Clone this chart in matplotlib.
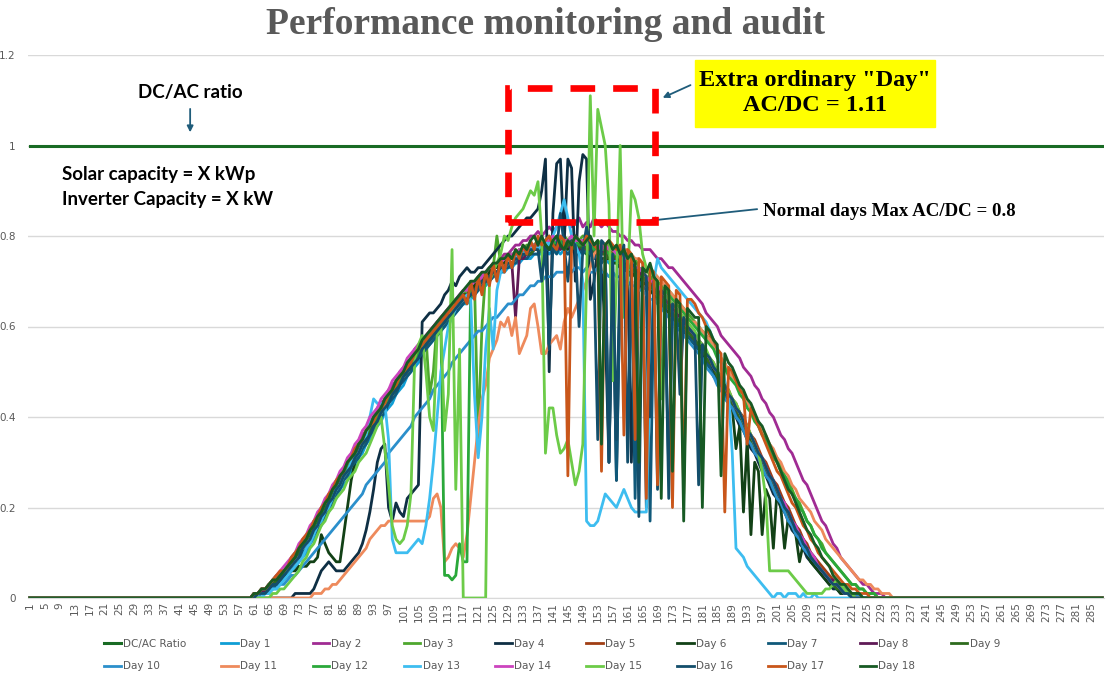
import matplotlib
matplotlib.use("Agg")
import matplotlib.pyplot as plt
from matplotlib.patches import Rectangle
import numpy as np

# ---- data ---------------------------------------------------------------
# 288 five-minute slots; daily AC/DC values (in %) start at slot 59
N_SLOTS = 288
START = 59
categories = np.arange(1, N_SLOTS + 1)
tick_labels = [str(c) for c in categories[::4]]
dc_ac_ratio = [1.0] * N_SLOTS

day_1 = [0,0,0,1,1,1,2,2,3,3,4,5,6,7,8,9,10,12,13,15,
         16,18,19,21,22,24,25,26,28,29,31,32,34,35,37,38,39,41,42,43,
         45,46,47,49,50,51,52,54,55,56,57,58,59,60,61,62,63,64,65,65,
         66,67,68,69,69,70,71,71,72,72,73,73,74,74,75,75,75,76,76,76,
         77,76,77,77,76,77,76,77,76,76,77,76,76,75,76,75,75,74,75,74,
         73,74,73,72,72,71,70,70,69,68,67,66,66,65,63,62,61,60,59,58,
         57,55,54,53,52,50,49,47,46,44,43,41,40,38,36,35,33,31,30,28,
         26,25,23,21,20,18,16,15,13,12,10,9,8,7,6,5,4,3,3,2,
         2,1,1,1,1]
day_2 = [0,0,1,1,2,2,3,3,4,5,6,7,8,9,11,12,13,15,16,18,
         19,21,22,24,25,27,28,30,31,33,34,36,37,39,40,42,43,44,46,47,
         48,50,51,52,53,55,56,57,58,59,60,61,62,63,64,65,66,67,68,68,
         69,70,71,72,72,73,74,74,75,76,76,77,78,78,79,79,80,80,81,80,
         81,82,81,82,83,82,83,82,83,84,82,83,82,84,83,82,83,82,81,81,
         80,80,79,79,78,78,77,77,77,76,75,75,74,73,73,72,71,70,69,68,
         67,66,65,63,62,61,60,58,57,56,55,54,53,51,50,49,47,46,44,43,
         41,40,38,36,35,33,32,30,28,26,25,23,21,19,17,16,14,12,11,9,
         8,7,6,5,4,3,3,2,1,1,1]
day_3 = [0,0,1,1,2,2,3,4,4,5,6,7,9,10,11,12,14,15,17,18,
         20,21,23,24,26,27,28,30,31,33,34,35,37,38,40,41,42,44,45,46,
         48,49,50,52,53,54,55,56,58,45,50,61,62,63,64,65,66,66,67,68,
         69,70,35,60,72,73,73,80,74,75,75,76,76,77,77,78,78,78,79,79,
         79,80,79,80,79,80,79,80,80,79,80,80,79,78,79,78,77,78,77,75,
         76,75,76,74,75,73,72,73,71,71,70,69,68,68,67,66,65,64,63,62,
         61,60,59,58,57,56,55,53,52,50,49,48,46,45,43,42,40,38,37,35,
         34,32,31,29,27,26,24,22,21,19,17,16,14,13,12,10,9,8,7,6,
         5,4,3,3,2,2,1,1,1]
day_4 = [0,0,0,0,0,0,0,0,0,0,0,0,0,1,1,1,1,1,2,4,
         6,7,8,7,6,6,6,7,8,9,10,12,15,19,24,30,33,34,20,17,
         21,19,18,22,23,24,25,61,62,63,63,64,65,67,68,70,69,71,72,73,
         72,72,73,73,74,75,76,77,78,79,80,80,81,82,83,84,84,85,86,90,
         97,50,85,96,97,78,97,95,70,92,98,97,66,70,78,72,60,30,72,26,
         70,74,72,30,70,68,72,20,71,69,68,66,65,64,62,61,60,59,58,57,
         56,55,54,52,51,49,48,46,45,43,42,40,38,37,35,33,32,30,28,27,
         25,23,22,20,19,17,15,14,12,11,9,8,7,6,5,4,3,2,2,1,
         1,1]
day_5 = [0,0,1,1,1,2,3,3,4,5,6,7,8,9,11,12,13,15,16,18,
         19,21,22,24,25,26,28,29,31,32,33,35,36,38,39,40,42,43,44,46,
         47,48,50,51,52,53,54,56,57,58,59,60,61,62,63,64,65,66,67,67,
         68,69,70,71,71,72,73,73,74,74,75,75,76,76,77,77,77,78,78,78,
         78,79,78,79,78,79,78,79,78,78,79,78,77,78,77,77,76,77,76,76,
         75,75,74,74,73,72,72,71,70,69,68,68,67,66,65,64,63,61,60,59,
         58,57,56,54,53,52,50,49,47,46,44,43,41,40,38,36,35,33,31,30,
         28,26,25,23,21,20,18,16,15,13,12,10,9,8,7,6,5,4,3,2,
         2,1,1,1]
day_6 = [0,0,1,1,1,2,2,3,3,4,5,5,6,6,7,7,7,8,8,9,
         14,12,10,9,8,8,14,20,26,30,32,34,36,37,39,40,42,43,44,46,
         47,48,50,51,52,53,55,56,57,58,59,60,61,62,63,64,65,66,67,67,
         68,69,70,71,71,72,73,73,74,74,75,75,76,76,76,77,77,77,78,78,
         78,78,78,77,78,78,77,78,77,77,77,76,77,76,76,75,75,75,74,74,
         73,73,72,72,71,70,70,69,68,67,66,65,64,63,62,61,60,59,58,57,
         56,55,54,52,51,50,48,47,45,44,42,33,38,19,35,14,30,28,14,24,
         22,11,24,20,11,18,16,14,8,12,10,8,7,6,5,4,3,3,2,1,
         1,1]
day_7 = [0,0,0,1,1,1,2,2,3,4,4,5,6,7,8,10,11,12,14,15,
         17,18,20,21,23,24,26,27,29,30,31,33,34,36,37,39,40,41,43,44,
         45,47,48,49,50,52,53,54,55,56,57,58,59,60,61,62,63,64,65,66,
         67,67,68,69,70,70,71,72,72,73,73,74,74,75,75,75,76,76,76,77,
         77,77,77,76,78,77,76,77,78,77,76,77,76,75,76,74,75,30,74,26,
         70,73,72,71,22,70,69,68,17,66,66,65,64,28,62,61,60,59,58,57,
         56,55,53,52,51,49,48,47,45,44,42,41,39,37,36,34,33,31,29,28,
         26,24,23,21,19,18,16,15,13,12,10,9,8,7,6,5,4,3,2,2,
         1,1,1]
day_8 = [0,0,1,1,1,2,2,3,4,5,6,7,8,9,10,12,13,14,16,17,
         19,20,22,23,25,26,27,29,30,32,33,35,36,38,39,40,42,43,44,45,
         47,48,49,50,52,53,54,55,56,57,58,60,61,62,63,63,64,65,66,67,
         68,68,69,70,71,71,72,72,73,73,74,74,62,75,75,76,76,77,77,77,
         78,77,78,78,77,78,78,77,78,77,78,77,77,77,76,77,76,76,75,75,
         75,74,74,73,72,72,71,70,69,69,68,67,66,65,64,63,62,61,60,58,
         57,56,55,53,52,51,49,48,46,45,43,42,40,39,37,35,34,32,30,29,
         27,25,24,22,21,19,17,16,14,13,11,10,9,7,6,5,4,4,3,2,
         2,1,1]
day_9 = [0,0,1,1,2,2,3,3,4,5,6,7,8,9,10,11,13,14,15,17,
         18,20,21,23,24,25,27,28,30,31,32,34,35,37,38,40,41,42,44,45,
         46,48,49,50,51,53,54,55,56,57,58,59,60,61,62,63,64,65,66,67,
         67,68,69,70,70,71,72,72,73,73,74,74,75,75,76,76,76,77,77,77,
         77,78,77,78,78,77,78,78,77,78,77,78,77,76,77,76,76,75,76,75,
         74,74,73,73,72,71,71,70,69,68,67,66,65,64,63,62,61,60,59,58,
         57,56,55,53,52,51,49,48,46,45,43,42,40,38,37,35,33,32,30,28,
         27,25,23,22,20,18,17,15,14,12,11,9,8,7,6,5,4,3,2,2,
         1,1]
day_10 = [0,0,0,0,1,1,1,2,2,3,3,4,5,5,6,7,8,9,10,11,
          12,13,14,15,16,17,18,19,20,21,22,23,25,26,27,28,29,30,32,33,
          34,35,36,37,38,40,41,42,43,44,46,47,48,49,50,52,53,54,55,56,
          57,58,59,59,60,61,62,62,63,64,65,65,66,67,67,68,69,69,70,70,
          71,71,71,72,72,72,73,72,73,73,72,73,72,72,73,72,72,71,72,71,
          71,70,70,69,69,68,68,67,66,66,65,64,63,62,61,60,59,58,57,56,
          55,54,53,51,50,49,47,46,44,43,42,40,39,37,35,34,32,31,29,27,
          26,24,22,21,19,17,16,14,13,11,10,9,8,7,6,5,4,3,3,2,
          2,1,1,1]
day_11 = [0,0,0,0,0,0,0,0,0,0,0,0,0,0,0,0,0,0,1,1,
          1,2,2,3,3,4,5,6,7,8,9,10,11,13,14,15,16,16,17,17,
          17,17,17,17,17,17,17,17,17,18,22,23,20,8,9,11,12,11,9,14,
          22,30,38,44,47,53,55,57,61,60,62,58,62,54,56,58,64,65,60,54,
          54,56,57,58,55,61,64,62,64,66,68,70,73,76,77,78,78,79,78,77,
          78,77,77,76,75,75,74,73,72,72,71,70,69,68,67,66,65,64,62,61,
          61,60,59,58,57,56,54,53,52,50,49,48,46,45,43,42,40,39,37,36,
          34,33,31,30,28,27,25,24,22,21,20,19,17,16,15,13,12,11,10,9,
          8,7,6,5,4,4,3,3,2,2,1,1,1]
day_12 = [0,0,1,1,2,2,3,4,5,5,6,7,8,10,11,12,13,15,16,18,
          19,21,22,24,25,27,28,29,31,32,34,35,36,38,39,40,42,43,44,46,
          47,48,50,51,52,53,54,56,57,58,59,60,61,5,5,4,5,12,8,8,
          70,70,71,71,72,73,73,74,74,75,75,76,76,77,77,77,78,78,78,78,
          79,79,78,79,79,78,79,78,79,78,78,79,78,77,78,77,77,76,76,76,
          75,75,74,74,73,73,72,71,71,70,69,68,68,67,66,65,64,63,62,61,
          60,59,58,57,56,55,53,52,51,49,48,47,45,44,42,41,39,38,36,35,
          33,31,30,28,27,25,23,22,20,19,17,16,14,13,11,10,9,8,7,6,
          5,4,3,3,2,2,1,1,1]
day_13 = [0,0,0,0,0,1,1,2,2,3,4,5,6,7,8,9,11,12,14,16,
          17,19,20,22,24,25,27,28,30,31,32,34,36,40,44,43,43,43,35,13,
          10,10,10,10,11,12,13,12,16,22,30,40,50,55,60,62,64,65,66,67,
          66,45,31,40,55,64,55,68,72,73,74,74,75,76,76,77,77,78,77,78,
          79,78,80,82,85,88,84,80,78,76,70,17,16,16,17,20,23,22,21,20,
          22,24,22,20,19,19,19,19,47,70,75,73,72,71,70,69,68,67,66,65,
          64,63,62,61,59,57,55,52,48,45,32,11,10,9,7,6,5,4,3,2,
          1,0,1,1,0,1,1,1,0,1,0,0,1]
day_14 = [0,0,1,1,2,2,3,4,5,6,7,8,9,10,12,13,14,16,17,19,
          20,22,23,25,26,28,29,31,32,34,35,37,38,40,41,42,44,45,46,48,
          49,50,51,53,54,55,56,57,58,59,60,61,62,63,64,65,66,67,68,68,
          69,70,70,71,72,73,73,74,74,75,75,76,76,77,77,77,78,78,78,79,
          79,79,80,79,80,79,79,80,79,79,79,78,79,78,78,77,78,77,77,76,
          76,75,75,74,73,73,72,71,70,70,69,68,67,66,65,64,63,62,60,59,
          58,57,56,54,53,51,50,49,47,45,44,42,41,39,37,36,34,32,31,29,
          27,26,24,22,21,19,17,16,14,13,11,10,9,7,6,5,4,3,3,2,
          1,1,1]
day_15 = [0,0,0,0,0,0,0,1,1,2,2,3,4,5,6,8,9,11,12,14,
          16,17,19,20,22,23,24,26,27,28,30,31,32,34,36,38,40,33,25,16,
          13,12,13,16,23,53,56,58,50,40,37,58,60,37,45,77,24,55,0,0,
          0,0,0,0,0,70,72,74,76,80,79,82,84,85,86,88,90,89,92,80,
          32,42,42,36,32,33,35,30,25,28,34,70,111,80,108,104,100,87,48,70,
          100,62,70,90,88,84,76,73,72,71,68,44,67,66,65,64,63,62,61,60,
          59,57,56,55,53,52,50,49,47,46,44,43,41,39,38,36,34,32,28,22,
          6,6,6,6,6,6,5,4,3,2,1,1,1,1,1,2,2,3,4,3,
          2,1,1]
day_16 = [0,0,0,1,1,1,2,3,3,4,5,6,7,8,9,11,12,13,15,16,
          18,19,21,22,24,25,27,28,29,31,32,34,35,36,38,39,41,42,43,45,
          46,47,49,50,51,52,53,55,56,57,58,59,60,61,62,63,64,65,66,66,
          67,68,69,70,70,71,72,72,73,73,74,74,75,75,76,76,77,77,77,70,
          78,55,78,77,85,78,70,79,78,60,77,82,78,72,35,79,78,30,76,35,
          75,78,30,74,73,18,72,71,40,70,24,68,67,22,65,64,45,62,60,59,
          58,25,56,54,53,51,50,48,47,45,44,42,41,39,37,36,34,32,31,29,
          27,26,24,22,20,19,17,15,14,12,11,9,8,7,6,5,4,3,3,2,
          1,1]
day_17 = [0,0,1,1,2,2,3,4,5,6,6,7,9,10,11,13,14,15,17,18,
          20,21,23,24,26,27,28,30,31,33,34,35,37,38,39,41,42,43,45,46,
          47,49,50,51,52,54,55,56,57,58,59,60,61,62,63,64,65,66,67,65,
          70,66,71,67,72,69,74,70,75,72,76,73,77,75,78,76,79,77,80,78,
          79,80,78,77,80,79,27,78,80,79,78,80,79,78,77,28,78,79,78,77,
          78,36,77,76,35,75,74,22,73,72,25,71,70,69,20,68,67,23,66,66,
          65,63,62,60,58,57,55,54,19,51,50,48,46,45,34,42,40,38,36,34,
          32,30,28,27,25,23,21,20,18,16,15,13,12,10,9,8,7,6,5,4,
          3,3,2,2,1,1,1]
day_18 = [0,0,1,1,2,2,3,4,4,5,6,7,8,9,11,12,13,15,16,18,
          19,21,22,24,25,27,28,30,31,32,34,35,37,38,40,41,42,44,45,46,
          48,49,50,52,53,54,55,57,58,59,60,61,62,63,64,65,66,67,68,69,
          70,70,71,72,72,73,74,74,75,75,76,75,77,76,78,77,79,80,78,80,
          78,77,79,80,78,77,79,78,80,79,78,79,80,78,79,34,78,79,77,78,
          76,77,75,76,74,30,73,72,74,71,70,22,69,68,28,66,65,17,64,63,
          62,62,20,60,59,57,56,27,54,52,51,49,47,46,44,43,41,39,38,36,
          34,32,30,28,26,24,23,21,19,17,15,14,12,11,9,8,7,5,4,3,
          3,2,1,1,1]

days = [day_1, day_2, day_3, day_4, day_5, day_6, day_7, day_8, day_9,
        day_10, day_11, day_12, day_13, day_14, day_15, day_16, day_17, day_18]
day_labels = ["Day %d" % (k + 1) for k in range(len(days))]
day_colors = ["#0F9ED5", "#A02B93", "#4EA72E", "#0E2F44", "#A03E14", "#124116",
              "#10597A", "#5F1A56", "#2E6B1E", "#2B8FCB", "#EE8A5C", "#2AA83A",
              "#3DBDF0", "#CC44BE", "#6CCB48", "#134E6B", "#C9561A", "#175A24"]


def full_day(values):
    series = np.zeros(N_SLOTS)
    series[START - 1:START - 1 + len(values)] = np.array(values) / 100.0
    return series


# ---- figure -------------------------------------------------------------
W, H = 1114, 673
fig = plt.figure(figsize=(W / 100, H / 100), dpi=100)
ax = fig.add_axes([28 / W, 1 - 598 / H, 1076 / W, 543 / H])

handles = []
h, = ax.plot(categories, dc_ac_ratio, color="#196B24", lw=2.2, label="DC/AC Ratio")
handles.append(h)
for vals, lab, col in zip(days, day_labels, day_colors):
    h, = ax.plot(categories, full_day(vals), color=col, lw=2.0, label=lab)
    handles.append(h)

ax.set_xlim(0.5, N_SLOTS + 0.5)
ax.set_ylim(0, 1.2)
ax.set_yticks([0, 0.2, 0.4, 0.6, 0.8, 1.0, 1.2])
ax.set_yticklabels(["0", "0.2", "0.4", "0.6", "0.8", "1", "1.2"])
ax.set_xticks(categories[::4])
ax.set_xticklabels(tick_labels, rotation=90)
ax.tick_params(axis="both", length=0, colors="#595959", labelsize=7.5)
ax.tick_params(axis="y", pad=9)
ax.tick_params(axis="x", pad=3)
ax.grid(axis="y", color="#D9D9D9", lw=1)
ax.set_axisbelow(True)
for s in ["top", "right", "left"]:
    ax.spines[s].set_visible(False)
ax.spines["bottom"].set_color("#D9D9D9")

fig.text(546 / W, 1 - 24 / H, "Performance monitoring and audit", ha="center", va="center",
         fontsize=27, fontweight="bold", family="Liberation Serif", color="#595959")

# legend: 10 columns, filled row by row
order = []
for c in range(10):
    order.append(c)
    if c + 10 < len(handles):
        order.append(c + 10)
leg = fig.legend([handles[i] for i in order], [handles[i].get_label() for i in order],
                 ncol=10, loc="center", bbox_to_anchor=(552 / W, 1 - 655 / H),
                 frameon=False, handlelength=1.6, handletextpad=0.2,
                 columnspacing=3.4, labelspacing=1.2,
                 prop={"family": "Liberation Sans Narrow", "size": 7.5})
for t in leg.get_texts():
    t.set_color("#595959")

# ---- annotations --------------------------------------------------------
arrow_col = "#1F5C7A"
ax.text(43.9, 1.118, "DC/AC ratio", ha="center", va="center", fontsize=13.5,
        fontweight="bold", family="Lato")
ax.annotate("", xy=(43.9, 1.023), xytext=(43.9, 1.087),
            arrowprops=dict(arrowstyle="-|>", color=arrow_col, lw=1.3, mutation_scale=9))
ax.text(9.6, 0.937, "Solar capacity = X kWp", ha="left", va="center", fontsize=13.5,
        fontweight="bold", family="Lato")
ax.text(9.6, 0.880, "Inverter Capacity = X kW", ha="left", va="center", fontsize=13.5,
        fontweight="bold", family="Lato")

ax.add_patch(Rectangle((129.1, 0.830), 168.2 - 129.1, 1.128 - 0.830, fill=False,
                       edgecolor="#FF0000", lw=4.8, linestyle=(0, (3.7, 2.7)), zorder=5))

fig.add_artist(Rectangle((695 / W, 1 - 127 / H), 240 / W, 67 / H,
                         transform=fig.transFigure, color="#FFFF00", zorder=6))
fig.text(815 / W, 1 - 93 / H, "Extra ordinary \"Day\"\nAC/DC = 1.11", ha="center",
         va="center", fontsize=17.5, fontweight="bold", family="Liberation Serif",
         linespacing=1.3, zorder=7)
ax.annotate("", xy=(169.7, 1.103), xytext=(178.5, 1.136),
            arrowprops=dict(arrowstyle="-|>", color=arrow_col, lw=1.3, mutation_scale=9))

ax.text(197.2, 0.855, "Normal days Max AC/DC = 0.8", ha="left", va="center",
        fontsize=13.6, fontweight="bold", family="Liberation Serif")
ax.annotate("", xy=(165.9, 0.833), xytext=(196.4, 0.860),
            arrowprops=dict(arrowstyle="-|>", color=arrow_col, lw=1.3, mutation_scale=9))

fig.savefig("out.png", dpi=100)
